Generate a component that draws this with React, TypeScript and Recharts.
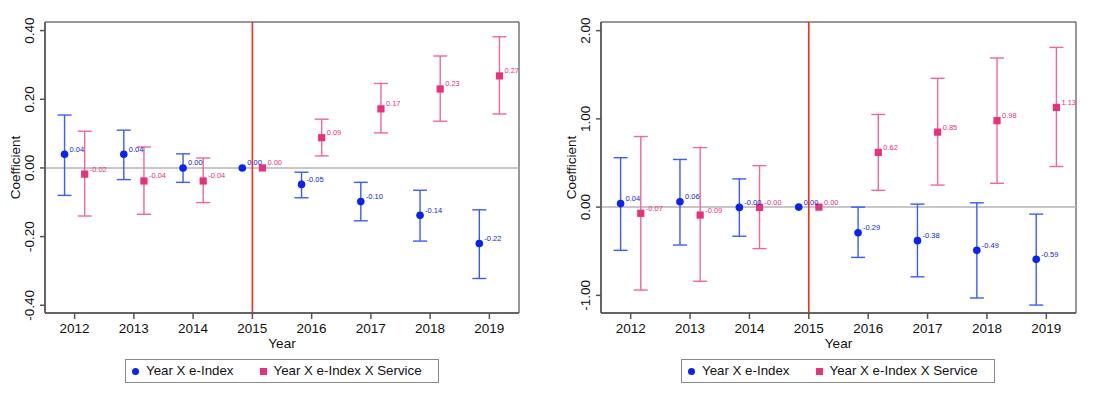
import React from "react";
import {
  ScatterChart,
  Scatter,
  XAxis,
  YAxis,
  ErrorBar,
  ReferenceLine,
  ReferenceArea,
  LabelList,
} from "recharts";

const years = [2012, 2013, 2014, 2015, 2016, 2017, 2018, 2019];

// Left panel
const leftBlueCoef = [0.04, 0.04, 0.0, 0.0, -0.048, -0.098, -0.138, -0.22];
const leftBlueLo = [-0.08, -0.034, -0.042, null, -0.087, -0.154, -0.213, -0.322];
const leftBlueHi = [0.154, 0.11, 0.041, null, -0.0125, -0.042, -0.065, -0.122];
const leftBlueLabels = ["0.04", "0.04", "0.00", "0.00", "-0.05", "-0.10", "-0.14", "-0.22"];

const leftPinkCoef = [-0.018, -0.038, -0.038, 0.0, 0.088, 0.172, 0.23, 0.268];
const leftPinkLo = [-0.14, -0.135, -0.101, null, 0.035, 0.102, 0.136, 0.157];
const leftPinkHi = [0.107, 0.061, 0.029, null, 0.142, 0.246, 0.326, 0.382];
const leftPinkLabels = ["-0.02", "-0.04", "-0.04", "0.00", "0.09", "0.17", "0.23", "0.27"];

const leftTicks = [-0.4, -0.2, 0.0, 0.2, 0.4];
const leftDomain = [-0.4225, 0.425];

// Right panel
const rightBlueCoef = [0.04, 0.06, -0.003, 0.0, -0.29, -0.38, -0.49, -0.59];
const rightBlueLo = [-0.49, -0.43, -0.33, null, -0.57, -0.79, -1.03, -1.11];
const rightBlueHi = [0.56, 0.54, 0.32, null, 0.0, 0.034, 0.049, -0.079];
const rightBlueLabels = ["0.04", "0.06", "-0.00", "0.00", "-0.29", "-0.38", "-0.49", "-0.59"];

const rightPinkCoef = [-0.07, -0.09, -0.003, 0.0, 0.62, 0.85, 0.98, 1.13];
const rightPinkLo = [-0.94, -0.84, -0.47, null, 0.19, 0.25, 0.27, 0.46];
const rightPinkHi = [0.8, 0.675, 0.47, null, 1.05, 1.46, 1.69, 1.81];
const rightPinkLabels = ["-0.07", "-0.09", "-0.00", "0.00", "0.62", "0.85", "0.98", "1.13"];

const rightTicks = [-1, 0, 1, 2];
const rightDomain = [-1.2, 2.098];

const seriesNames = ["Year X e-Index", "Year X e-Index X Service"];

const BLUE = "#0a22f2";
const BLUE_BAR = "#3a5cff";
const PINK = "#e8317a";
const PINK_BAR = "#f0679a";
const RED = "#ff2a1a";
const FONT = "'Liberation Sans', Arial, Helvetica, sans-serif";

type Row = { x: number; y: number; err: number[] | null; label: string };

function build(coef: number[], lo: (number | null)[], hi: (number | null)[], labels: string[], shift: number): Row[] {
  return years.map((yr, i) => {
    const l = lo[i];
    const h = hi[i];
    return {
      x: yr + shift,
      y: coef[i],
      err: l === null || h === null ? null : [coef[i] - l, h - coef[i]],
      label: labels[i],
    };
  });
}

const Circle = (p: any) => <circle cx={p.cx} cy={p.cy} r={3.8} fill={BLUE} />;
const Square = (p: any) => <rect x={p.cx - 3.6} y={p.cy - 3.6} width={7.2} height={7.2} fill={PINK} />;

const makeLabel = (color: string) => (p: any) => (
  <text x={p.x + p.width / 2 + 5} y={p.y + p.height / 2 - 2.5} fontSize={7.5} fill={color} fontFamily={FONT}>
    {p.value}
  </text>
);

const YTick = (p: any) => {
  const { x, y, payload, fmt } = p;
  const cx = x - 10;
  return (
    <text
      x={cx}
      y={y}
      transform={`rotate(-90 ${cx} ${y})`}
      textAnchor="middle"
      dominantBaseline="central"
      fontSize={13.5}
      fill="#111"
      fontFamily={FONT}
    >
      {fmt(payload.value)}
    </text>
  );
};

const fmt2 = (v: number) => v.toFixed(2);

function Panel(props: {
  blue: Row[];
  pink: Row[];
  ticks: number[];
  domain: number[];
  width: number;
  yWidth: number;
  rightMargin: number;
}) {
  const { blue, pink, ticks, domain, width, yWidth, rightMargin } = props;
  return (
    <ScatterChart
      width={width}
      height={393}
      margin={{ top: 22, right: rightMargin, bottom: 50, left: 0 }}
    >
      <XAxis
        type="number"
        dataKey="x"
        domain={[2011.5, 2019.5]}
        ticks={years}
        allowDataOverflow
        height={30}
        tickSize={6}
        tickMargin={4}
        stroke="#555"
        strokeWidth={1.5}
        tick={{ fill: "#111", fontSize: 13.5, fontFamily: FONT }}
        label={(lp: any) => {
          const vb = lp.viewBox;
          return (
            <text x={vb.x + vb.width / 2} y={348} textAnchor="middle" fontSize={13.5} fill="#111" fontFamily={FONT}>
              Year
            </text>
          );
        }}
      />
      <YAxis
        type="number"
        dataKey="y"
        domain={domain}
        ticks={ticks}
        allowDataOverflow
        width={yWidth}
        tickSize={5}
        tickMargin={0}
        stroke="#555"
        strokeWidth={1.5}
        tick={<YTick fmt={fmt2} />}
        label={(lp: any) => {
          const vb = lp.viewBox;
          const cx = vb.x + vb.width - 30;
          const cy = vb.y + vb.height / 2;
          return (
            <text
              x={cx}
              y={cy}
              transform={`rotate(-90 ${cx} ${cy})`}
              textAnchor="middle"
              dominantBaseline="central"
              fontSize={13.5}
              fill="#111"
              fontFamily={FONT}
            >
              Coefficient
            </text>
          );
        }}
      />
      <ReferenceArea
        x1={2011.5}
        x2={2019.5}
        y1={domain[0]}
        y2={domain[1]}
        fill="none"
        stroke="#333"
        strokeWidth={1}
        ifOverflow="visible"
      />
      <ReferenceLine y={0} stroke="#b4b4b4" strokeWidth={1.5} />
      <ReferenceLine x={2015} stroke={RED} strokeWidth={1.6} />
      <Scatter name={seriesNames[0]} data={blue} shape={Circle} isAnimationActive={false}>
        <ErrorBar dataKey="err" direction="y" width={7} stroke={BLUE_BAR} strokeWidth={1.4} />
        <LabelList dataKey="label" content={makeLabel(BLUE)} />
      </Scatter>
      <Scatter name={seriesNames[1]} data={pink} shape={Square} isAnimationActive={false}>
        <ErrorBar dataKey="err" direction="y" width={7} stroke={PINK_BAR} strokeWidth={1.4} />
        <LabelList dataKey="label" content={makeLabel(PINK)} />
      </Scatter>
    </ScatterChart>
  );
}

function LegendBox(props: { left: number }) {
  return (
    <div
      style={{
        position: "absolute",
        left: props.left,
        top: 359,
        width: 312,
        height: 22,
        border: "1px solid #8a8a8a",
        fontFamily: FONT,
        fontSize: 13.3,
        color: "#111",
        background: "#fff",
      }}
    >
      <span
        style={{
          position: "absolute",
          left: 6,
          top: 7.5,
          width: 7,
          height: 7,
          borderRadius: "50%",
          background: BLUE,
        }}
      />
      <span style={{ position: "absolute", left: 20, top: 3, whiteSpace: "nowrap" }}>{seriesNames[0]}</span>
      <span
        style={{
          position: "absolute",
          left: 134,
          top: 7.5,
          width: 7,
          height: 7,
          background: PINK,
        }}
      />
      <span style={{ position: "absolute", left: 147.5, top: 3, whiteSpace: "nowrap" }}>{seriesNames[1]}</span>
    </div>
  );
}

export default function App() {
  const shift = 0.17;
  const lb = build(leftBlueCoef, leftBlueLo, leftBlueHi, leftBlueLabels, -shift);
  const lp = build(leftPinkCoef, leftPinkLo, leftPinkHi, leftPinkLabels, shift);
  const rb = build(rightBlueCoef, rightBlueLo, rightBlueHi, rightBlueLabels, -shift);
  const rp = build(rightPinkCoef, rightPinkLo, rightPinkHi, rightPinkLabels, shift);
  return (
    <div style={{ position: "absolute", left: 0, top: 0, width: 1095, height: 393, background: "#fff" }}>
      <div style={{ position: "absolute", left: 0, top: 0 }}>
        <Panel blue={lb} pink={lp} ticks={leftTicks} domain={leftDomain} width={550} yWidth={45} rightMargin={31} />
      </div>
      <div style={{ position: "absolute", left: 550, top: 0 }}>
        <Panel blue={rb} pink={rp} ticks={rightTicks} domain={rightDomain} width={545} yWidth={51} rightMargin={19} />
      </div>
      <LegendBox left={125} />
      <LegendBox left={681} />
    </div>
  );
}
